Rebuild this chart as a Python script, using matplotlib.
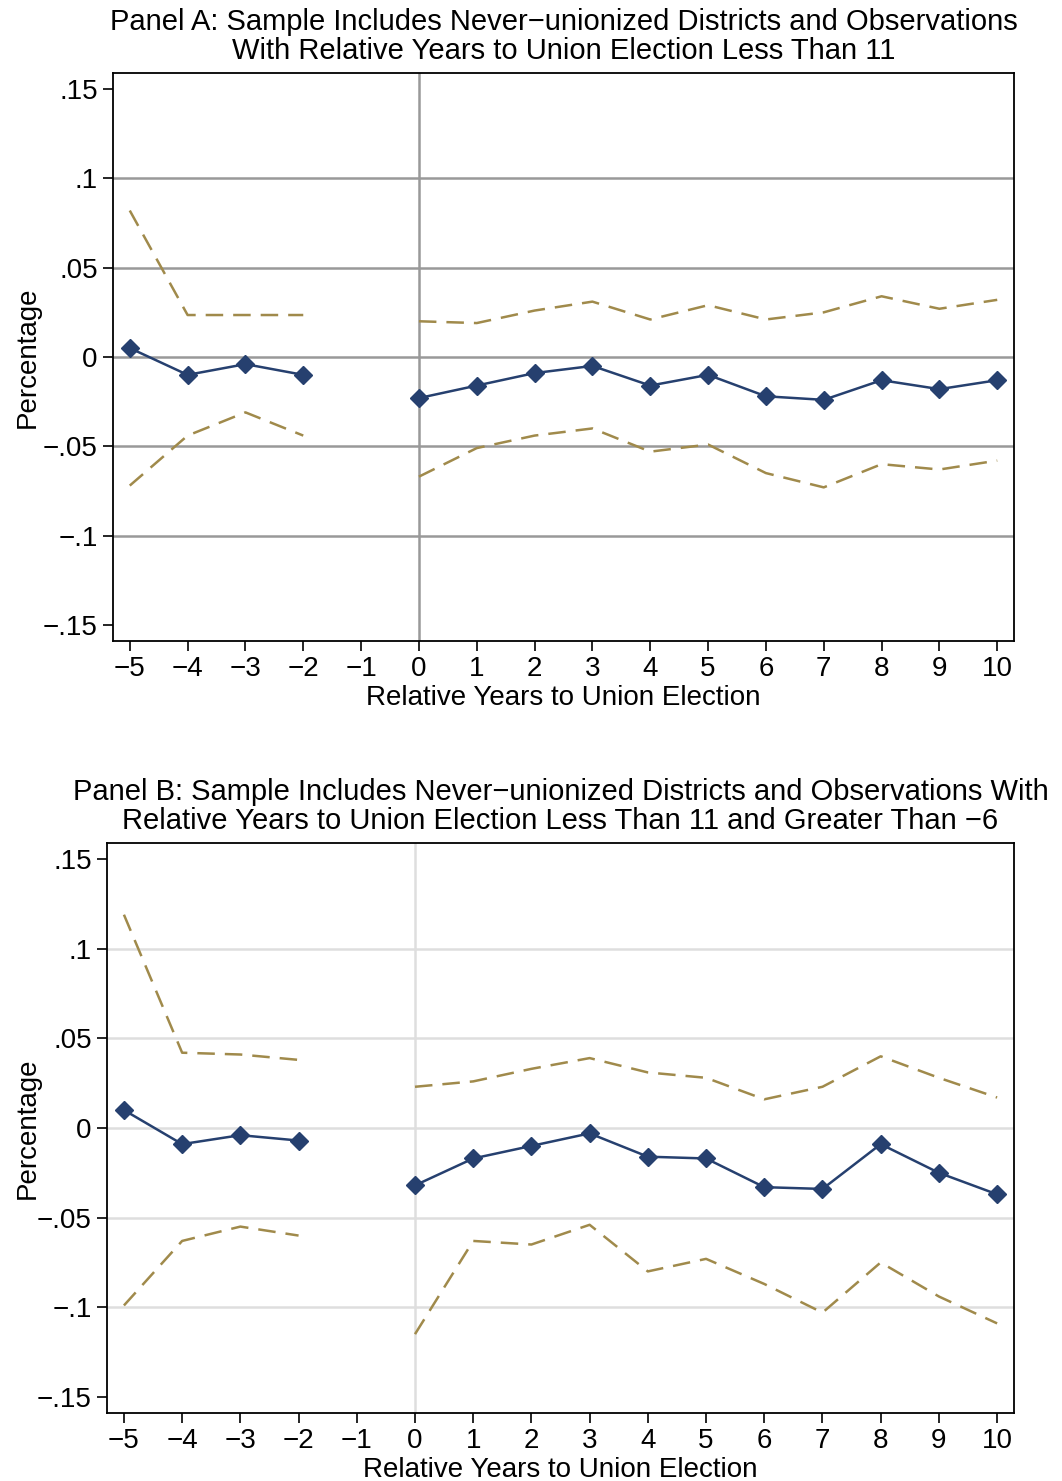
import numpy as np
import matplotlib.pyplot as plt
import matplotlib.transforms as mtransforms

plt.rcParams['font.family'] = ['Liberation Sans', 'DejaVu Sans']

years = [-5, -4, -3, -2, 0, 1, 2, 3, 4, 5, 6, 7, 8, 9, 10]

# Panel A
coef_a = [0.005, -0.010, -0.004, -0.010, -0.023, -0.016, -0.009, -0.005, -0.016, -0.010, -0.022, -0.024, -0.013, -0.018, -0.013]
upper_a = [0.082, 0.0235, 0.0235, 0.0235, 0.020, 0.019, 0.026, 0.031, 0.021, 0.029, 0.021, 0.025, 0.034, 0.027, 0.032]
lower_a = [-0.072, -0.044, -0.031, -0.044, -0.067, -0.051, -0.044, -0.040, -0.053, -0.049, -0.065, -0.073, -0.060, -0.063, -0.058]

# Panel B
coef_b = [0.010, -0.009, -0.004, -0.007, -0.032, -0.017, -0.010, -0.003, -0.016, -0.017, -0.033, -0.034, -0.009, -0.025, -0.037]
upper_b = [0.119, 0.042, 0.041, 0.038, 0.023, 0.026, 0.033, 0.039, 0.031, 0.028, 0.016, 0.023, 0.040, 0.028, 0.017]
lower_b = [-0.099, -0.063, -0.055, -0.060, -0.115, -0.063, -0.065, -0.054, -0.080, -0.073, -0.087, -0.103, -0.075, -0.094, -0.109]

title_a = "Panel A: Sample Includes Never\u2212unionized Districts and Observations\nWith Relative Years to Union Election Less Than 11"
title_b = "Panel B: Sample Includes Never\u2212unionized Districts and Observations With\nRelative Years to Union Election Less Than 11 and Greater Than \u22126"

yticks = [-0.15, -0.1, -0.05, 0, 0.05, 0.1, 0.15]
ytick_labels = ["\u2212.15", "\u2212.1", "\u2212.05", "0", ".05", ".1", ".15"]
xticks = list(range(-5, 11))
xtick_labels = [str(v).replace("-", "\u2212") for v in xticks]

NAVY = "#26406f"
KHAKI = "#a08a4b"


def draw_panel(fig, ax, coef, upper, lower, title, grid_color):
    x = np.array(years)
    pre = x < 0
    post = x >= 0
    for g in (-0.1, -0.05, 0, 0.05, 0.1):
        ax.axhline(g, color=grid_color, lw=1.8, zorder=0)
    ax.axvline(0, color=grid_color, lw=1.8, zorder=0)
    for m in (pre, post):
        ax.plot(x[m], np.array(upper)[m], color=KHAKI, lw=1.8, dashes=(7, 4))
        ax.plot(x[m], np.array(lower)[m], color=KHAKI, lw=1.8, dashes=(7, 4))
        ax.plot(x[m], np.array(coef)[m], color=NAVY, lw=1.8,
                marker="D", ms=9, zorder=3)
    ax.set_xlim(-5.29, 10.29)
    ax.set_ylim(-0.159, 0.159)
    ax.set_yticks(yticks)
    ax.set_yticklabels(ytick_labels, fontsize=20)
    ax.set_xticks(xticks)
    ax.set_xticklabels(xtick_labels, fontsize=20)
    ax.tick_params(direction="out", length=7, width=1.2, color="black", pad=4)
    for s in ax.spines.values():
        s.set_linewidth(1.3)
    ax.set_xlabel("Relative Years to Union Election", fontsize=20, labelpad=2)
    ax.set_ylabel("Percentage", fontsize=20)
    trans = mtransforms.blended_transform_factory(fig.transFigure, ax.transAxes)
    ax.yaxis.set_label_coords(0.038, 0.5, transform=trans)
    ax.set_title(title, fontsize=21, linespacing=1.05, pad=10)


fig = plt.figure(figsize=(10.62, 14.81), dpi=100)
ax1 = fig.add_axes([0.1064, 0.5672, 0.8484, 0.3835])
ax2 = fig.add_axes([0.1008, 0.0459, 0.854, 0.3849])

draw_panel(fig, ax1, coef_a, upper_a, lower_a, title_a, "#999999")
draw_panel(fig, ax2, coef_b, upper_b, lower_b, title_b, "#dedede")

fig.savefig("out.png", dpi=100)
